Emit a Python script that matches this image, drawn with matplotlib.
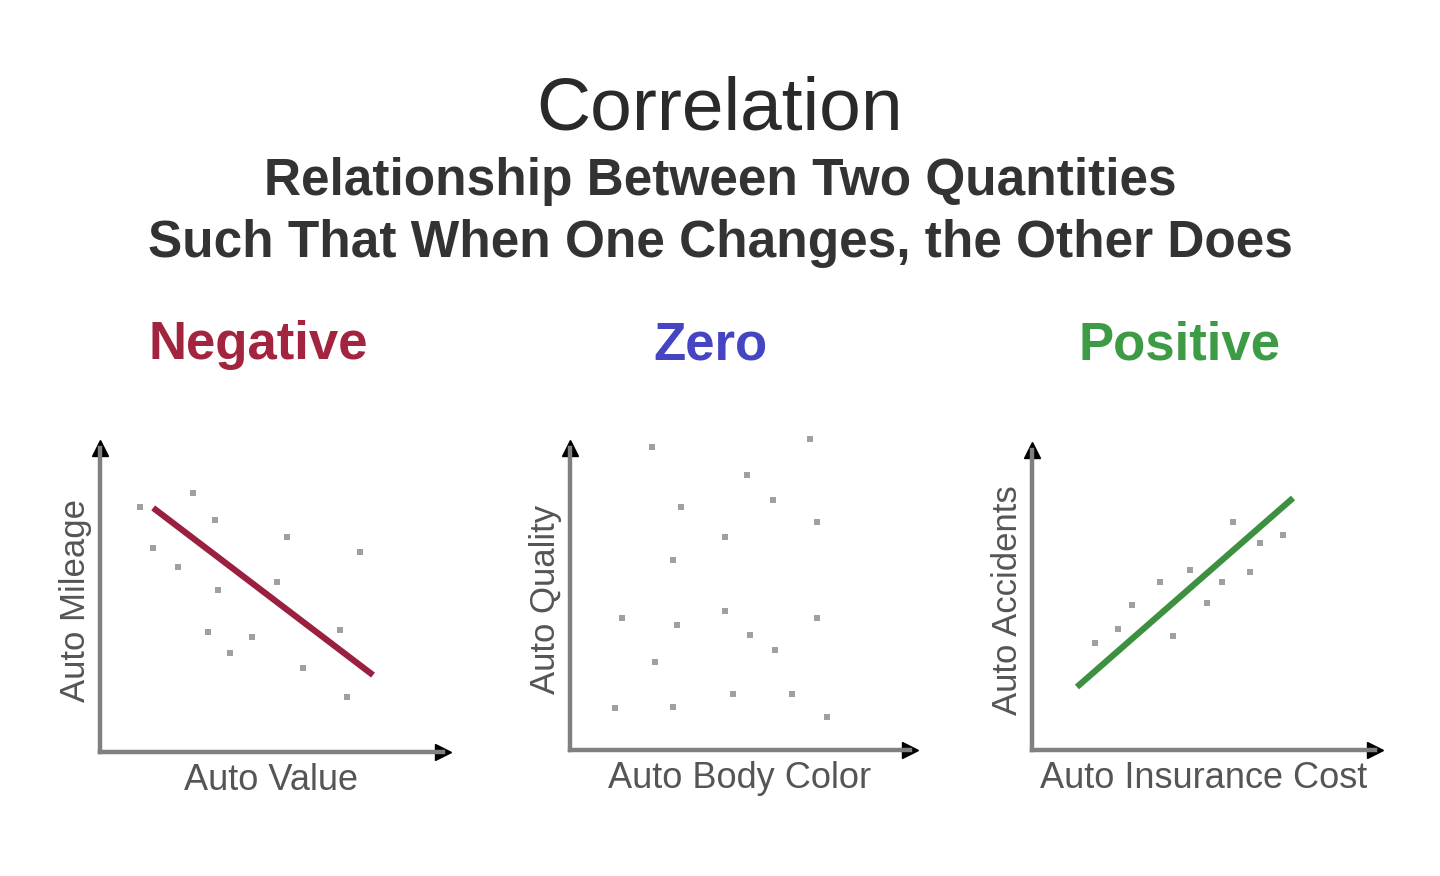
import matplotlib
matplotlib.use("Agg")
import matplotlib.pyplot as plt

plt.rcParams['font.family'] = ['Liberation Sans', 'DejaVu Sans']

# panel data (axis units 0..10 from the origin)
neg_x = [1.17, 2.71, 3.35, 1.55, 2.27, 5.45, 7.58, 3.44, 5.16, 3.15, 4.43, 3.79, 7.0, 5.92, 7.2]
neg_y = [8.06, 8.52, 7.63, 6.71, 6.09, 7.07, 6.58, 5.33, 5.59, 3.95, 3.78, 3.26, 4.01, 2.76, 1.81]
neg_line_x = [1.55, 7.96]
neg_line_y = [8.03, 2.53]

zero_x = [2.41, 7.06, 5.21, 5.97, 3.26, 7.26, 4.56, 3.03, 1.53, 4.56, 3.15, 7.26, 5.29, 6.03, 2.5, 1.32, 4.79, 6.53, 7.56, 3.03]
zero_y = [10.03, 10.3, 9.11, 8.28, 8.05, 7.55, 7.05, 6.29, 4.37, 4.6, 4.14, 4.37, 3.81, 3.31, 2.91, 1.39, 1.85, 1.85, 1.09, 1.42]

pos_x = [5.86, 7.32, 6.65, 3.73, 4.61, 5.54, 6.36, 2.92, 5.1, 2.51, 4.11, 1.84]
pos_y = [7.6, 7.17, 6.9, 5.6, 6.0, 5.6, 5.93, 4.83, 4.9, 4.03, 3.8, 3.57]
pos_line_x = [1.31, 7.61]
pos_line_y = [2.1, 8.4]

titles = ["Negative", "Zero", "Positive"]
title_colors = ["#a3243f", "#4545c4", "#3d9a45"]
line_colors = ["#9a2040", None, "#3d9040"]
xlabels = ["Auto Value", "Auto Body Color", "Auto Insurance Cost"]
ylabels = ["Auto Mileage", "Auto Quality", "Auto Accidents"]

W, H = 1440, 876
fig = plt.figure(figsize=(W / 100, H / 100), dpi=100)

def px_axes(left, bottom, right, top):
    return fig.add_axes([left / W, 1 - bottom / H, (right - left) / W, (bottom - top) / H])

boxes = [(100, 752, 443, 448), (570, 750, 910, 448), (1032, 750, 1375, 450)]
title_x = [258, 710, 1180]

fig.text(0.5, 1 - 110 / H, "Correlation", ha='center', va='center', fontsize=54, color='#2a2a2a')
fig.text(0.5, 1 - 182 / H, "Relationship Between Two Quantities", ha='center', va='center',
         fontsize=37, fontweight='bold', color='#333333')
fig.text(0.5, 1 - 243 / H, "Such That When One Changes, the Other Does", ha='center', va='center',
         fontsize=37, fontweight='bold', color='#333333')

panels = [(neg_x, neg_y), (zero_x, zero_y), (pos_x, pos_y)]
lines = [(neg_line_x, neg_line_y), None, (pos_line_x, pos_line_y)]

for i in range(3):
    ax = px_axes(*boxes[i])
    ax.set_xlim(0, 10)
    ax.set_ylim(0, 10)
    for s in ['top', 'right']:
        ax.spines[s].set_visible(False)
    for s in ['left', 'bottom']:
        ax.spines[s].set_color('#808080')
        ax.spines[s].set_linewidth(3.2)
    ax.set_xticks([])
    ax.set_yticks([])
    ax.patch.set_alpha(0)
    ax.plot(1, 0, '>', color='black', markersize=12, transform=ax.transAxes, clip_on=False)
    ax.plot(0, 1, '^', color='black', markersize=12, transform=ax.transAxes, clip_on=False)
    xs, ys = panels[i]
    ax.scatter(xs, ys, marker='s', s=20, color='#a0a0a0', edgecolors='none', clip_on=False)
    if lines[i] is not None:
        lx, ly = lines[i]
        ax.plot(lx, ly, color=line_colors[i], linewidth=4.5, solid_capstyle='butt')
    ax.set_xlabel(xlabels[i], fontsize=26, color='#555555', labelpad=8)
    ax.set_ylabel(ylabels[i], fontsize=25, color='#555555', labelpad=6)
    fig.text(title_x[i] / W, 1 - 345 / H, titles[i], ha='center', va='center',
             fontsize=38, fontweight='bold', color=title_colors[i])

fig.savefig("out.png", dpi=100)
